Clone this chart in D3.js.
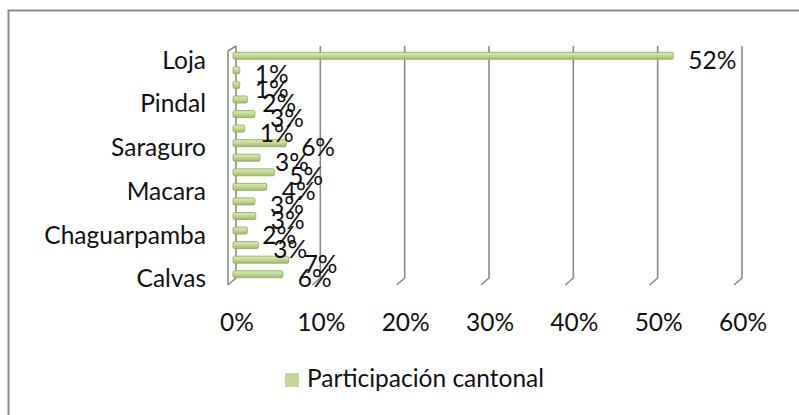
<!DOCTYPE html>
<html><head><meta charset="utf-8">
<script src="https://cdn.jsdelivr.net/npm/d3@7"></script>
<style>body{margin:0;background:#fff}svg{display:block}text{font-family:Lato,"Open Sans",sans-serif;fill:#111}</style>
</head><body>
<svg id="c" width="799" height="415"></svg>
<script>
const categories = ["Calvas","Catamayo","Celica","Chaguarpamba","Espíndola","Gonzanamá","Macara","Paltas","Puyango","Saraguro","Sozoranga","Zapotillo","Pindal","Quilanga","Olmedo","Loja"];
const values = [0.059,0.066,0.030,0.017,0.027,0.026,0.040,0.049,0.032,0.063,0.014,0.026,0.017,0.008,0.008,0.522];
const shownLabels = ["Calvas","Chaguarpamba","Macara","Saraguro","Pindal","Loja"];
const xTicks = [0,0.1,0.2,0.3,0.4,0.5,0.6];
const seriesName = "Participación cantonal";

const svg = d3.select("#c");
const FS = 24.5;
const dx = 8, dy = 7; // 3D depth offset

// frame
svg.append("rect").attr("x",8.5).attr("y",10.5).attr("width",820).attr("height",420)
  .attr("fill","none").attr("stroke","#898989").attr("stroke-width",2);

const x = d3.scaleLinear().domain([0,0.6]).range([236,742]);
const y = d3.scaleBand().domain(categories).range([281.5,48.5]);
const gTop = 46, gBot = 278;

// gradient
const defs = svg.append("defs");
const g = defs.append("linearGradient").attr("id","bg").attr("x1",0).attr("y1",0).attr("x2",0).attr("y2",1);
g.append("stop").attr("offset","0%").attr("stop-color","#dde9c4");
g.append("stop").attr("offset","50%").attr("stop-color","#c2d696");
g.append("stop").attr("offset","100%").attr("stop-color","#9fba68");

// gridlines (back wall + floor)
const grid = svg.append("g").attr("stroke","#8a8a8a").attr("stroke-width",1.6).attr("fill","none");
xTicks.forEach(t => {
  const xb = x(t);
  grid.append("path").attr("d",`M${xb},${gTop}V${gBot}L${xb-dx},${gBot+dy}`);
});
// left wall
grid.append("path").attr("d",`M${x(0)-dx},${gTop+dy-2}L${x(0)},${gTop}M${x(0)-dx},${gTop+dy-2}V${gBot+dy}`);

// bars
const bh = 7;
svg.append("g").selectAll("rect").data(categories).join("rect")
  .attr("x", x(0)-3)
  .attr("y", d => y(d)+y.bandwidth()/2-bh/2)
  .attr("width", (d,i) => x(values[i]) - x(0))
  .attr("height", bh).attr("rx",1.5)
  .attr("fill","url(#bg)").attr("stroke","#94b05a").attr("stroke-width",0.9);

// value labels
const fmt = d3.format(".0%");
svg.append("g").selectAll("text").data(categories).join("text")
  .attr("x", (d,i) => x(values[i]) + 12)
  .attr("y", d => y(d)+y.bandwidth()/2 + 13)
  .attr("font-size",FS)
  .text((d,i) => fmt(values[i]));

// category labels
svg.append("g").selectAll("text").data(categories.filter(c => shownLabels.includes(c))).join("text")
  .attr("x", 206).attr("text-anchor","end")
  .attr("y", d => y(d)+y.bandwidth()/2 + 13)
  .attr("font-size",FS)
  .text(d => d);

// x tick labels
svg.append("g").selectAll("text").data(xTicks).join("text")
  .attr("x", d => x(d)+1).attr("y",331).attr("text-anchor","middle")
  .attr("font-size",FS)
  .text(d => fmt(d));

// legend
svg.append("rect").attr("x",285).attr("y",373).attr("width",14).attr("height",14).attr("fill","#c3d69b");
svg.append("text").attr("x",307).attr("y",387).attr("font-size",FS).text(seriesName);
</script>
</body></html>
